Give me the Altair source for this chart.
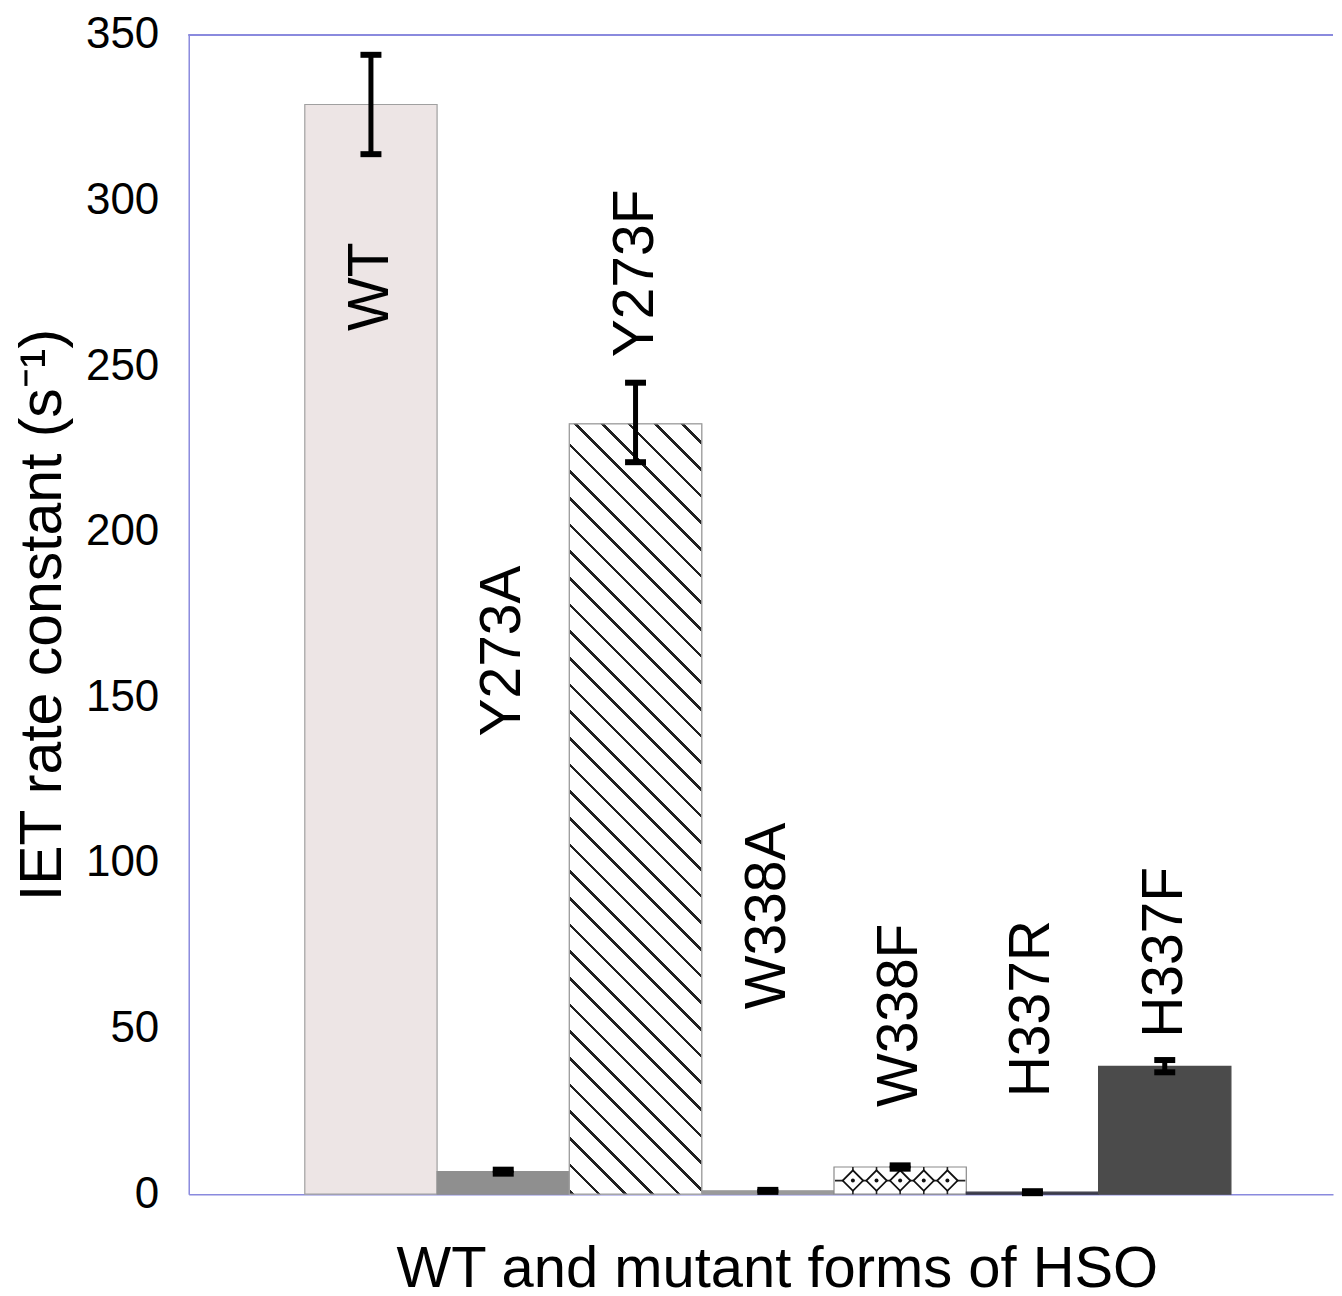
import math
import altair as alt
import pandas as pd

# ---------------- data ----------------
mutants = ["WT", "Y273A", "Y273F", "W338A", "W338F", "H337R", "H337F"]
rates = [329.0, 6.8, 232.6, 1.0, 8.2, 0.6, 38.6]
err_low = [314.0, 6.2, 221.0, 0.7, 7.7, 0.3, 36.8]
err_high = [344.0, 7.4, 245.0, 1.3, 8.7, 0.9, 40.5]
label_at = [274.0, 164.0, 278.0, 84.0, 54.0, 56.0, 73.0]
y_ticks = [0, 50, 100, 150, 200, 250, 300, 350]

df = pd.DataFrame({
    "mutant": mutants,
    "rate": rates,
    "lo": err_low,
    "hi": err_high,
    "lab": label_at,
})

# ---------------- styles ----------------
FONT = "Liberation Sans"
PLOT_W, PLOT_H = 1146, 1161
Y_MAX = 350
PAD_OUTER = 0.8245
fills = ["#ede5e5", "#8f8f8f", "#ffffff", "#9a9a9a", "#ffffff", "#3a3a48", "#4b4b4b"]
strokes = ["#a0a0a0", "#8f8f8f", "#a0a0a0", "#9a9a9a", "#8a8a8a", "#3a3a48", "#4b4b4b"]
AXIS_BLUE = "#8a8ade"

# hatch gradient for the Y273F bar (diagonal "\" stripes)
step = PLOT_W / (len(mutants) + 2 * PAD_OUTER)
hw = step
hh = rates[mutants.index("Y273F")] / Y_MAX * PLOT_H
L = hw + hh
k = (hw + hh) / (hw * hw + hh * hh)
period = 26.7
lw = 3.6
phase = (hh + 6) % period
stops = [{"offset": 0, "color": "white"}]
c = phase
while c < L:
    a = max(c - lw / 2, 0) / L
    b = min(c + lw / 2, L) / L
    stops += [{"offset": a, "color": "white"}, {"offset": a, "color": "#222222"},
              {"offset": b, "color": "#222222"}, {"offset": b, "color": "white"}]
    c += period
stops.append({"offset": 1, "color": "white"})
hatch = {"gradient": "linear", "x1": 0, "y1": 1, "x2": k * hw, "y2": 1 - k * hh, "stops": stops}

# diamond pattern for the W338F bar
w_val = rates[mutants.index("W338F")]
pat = pd.DataFrame({"mutant": ["W338F"] * 5, "slot": list(range(5)),
                    "mid": [w_val / 2] * 5, "y0": [0.0] * 5, "top": [w_val] * 5})

xscale = alt.Scale(domain=mutants, paddingInner=0, paddingOuter=PAD_OUTER, align=0.532)
yscale = alt.Scale(domain=[0, Y_MAX], nice=False, zero=True)

X = alt.X("mutant:N", scale=xscale, sort=mutants,
          axis=alt.Axis(title="WT and mutant forms of HSO", labels=False, ticks=False,
                        domainColor=AXIS_BLUE, domainWidth=1.5, labelPadding=0,
                        titleFontSize=58, titleFont=FONT, titleFontWeight="normal",
                        titleColor="black", titlePadding=46, titleX=589, titleAlign="center"))
Y = alt.Y("rate:Q", scale=yscale,
          axis=alt.Axis(title="IET rate constant (s⁻¹)", values=y_ticks, ticks=False,
                        labelFontSize=44, labelFont=FONT, labelColor="black",
                        labelPadding=30, domainColor=AXIS_BLUE, domainWidth=1.5,
                        grid=False, titleFontSize=59, titleFont=FONT,
                        titleFontWeight="normal", titleColor="black", titlePadding=13))

base = alt.Chart(df)

bars = base.mark_bar(strokeWidth=1.2).encode(
    x=X, y=Y,
    fill=alt.Fill("mutant:N", scale=alt.Scale(domain=mutants, range=fills), legend=None),
    stroke=alt.Stroke("mutant:N", scale=alt.Scale(domain=mutants, range=strokes), legend=None),
)

hatch_bar = base.transform_filter(alt.datum.mutant == "Y273F").mark_bar(
    fill=hatch, stroke="#a0a0a0", strokeWidth=1.2).encode(x="mutant:N", y="rate:Q")

offs = alt.XOffset("slot:O", scale=alt.Scale(paddingInner=0, paddingOuter=0.3))
pbase = alt.Chart(pat)
pv = pbase.mark_rule(color="#222222", strokeWidth=1.6).encode(
    x="mutant:N", xOffset=offs, y=alt.Y("y0:Q"), y2="top:Q")
ph = base.transform_filter(alt.datum.mutant == "W338F").transform_calculate(
    mid="datum.rate/2").mark_tick(color="#222222", thickness=1.6, size=step - 2, opacity=1).encode(
    x="mutant:N", y=alt.Y("mid:Q"))
pd_ = pbase.mark_point(shape="diamond", filled=True, fill="white", stroke="#111111",
                       strokeWidth=1.8, size=420, opacity=1).encode(
    x="mutant:N", xOffset=offs, y=alt.Y("mid:Q"))
pc = pbase.mark_point(shape="circle", filled=True, color="#111111", size=16, opacity=1).encode(
    x="mutant:N", xOffset=offs, y=alt.Y("mid:Q"))

err = base.mark_rule(color="black", strokeWidth=5, opacity=1).encode(x="mutant:N", y="lo:Q", y2="hi:Q")
cap_lo = base.mark_tick(color="black", thickness=6, size=21, opacity=1).encode(x="mutant:N", y="lo:Q")
cap_hi = base.mark_tick(color="black", thickness=6, size=21, opacity=1).encode(x="mutant:N", y="hi:Q")

labels = base.mark_text(angle=270, fontSize=57, font=FONT, align="center",
                        baseline="middle", color="black").encode(
    x="mutant:N", y="lab:Q", text="mutant:N")

top_line = alt.Chart(df).mark_rule(color=AXIS_BLUE, strokeWidth=1.5).encode(y=alt.datum(Y_MAX))

chart = alt.layer(bars, hatch_bar, pv, ph, pd_, pc, err, cap_lo, cap_hi, labels, top_line).properties(
    width=PLOT_W, height=PLOT_H,
    padding={"left": 5, "top": 4, "right": 0, "bottom": 0},
    background="white",
).configure_view(stroke=None)

chart.save("out.html", embed_options={"renderer": "svg", "actions": False})
